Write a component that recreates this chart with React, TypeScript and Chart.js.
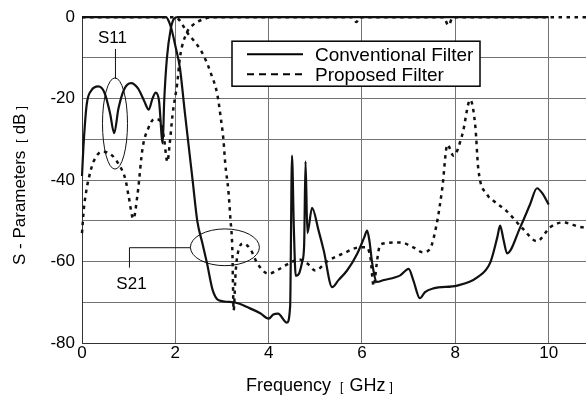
import React, { useEffect, useRef } from "react";
import { Chart, registerables } from "chart.js";

Chart.register(...registerables);

// ---- data (frequency GHz, dB) ----
const conventionalS11: [number, number][] = [
  [0, -39], [0.03, -32], [0.1, -21.5], [0.2, -18], [0.35, -17], [0.48, -18.5], [0.6, -23.5],
  [0.69, -28.5], [0.78, -22.5], [0.9, -17.8], [1.05, -16.2], [1.2, -17.5], [1.33, -20.5],
  [1.43, -22.7], [1.51, -20], [1.58, -18.5], [1.65, -20.5], [1.73, -31], [1.76, -21],
  [1.82, -10], [1.9, -3], [1.97, -0.4], [2.05, 0], [10, 0],
];
const conventionalS21: [number, number][] = [
  [0, 0], [1.8, 0], [1.86, -1], [1.92, -3], [2.0, -7], [2.1, -12.6], [2.2, -23], [2.3, -33],
  [2.37, -40], [2.47, -50], [2.58, -55.5], [2.68, -60.5], [2.8, -67], [2.93, -69.5],
  [3.25, -70], [3.6, -71.5], [3.82, -72.7], [4.0, -74], [4.1, -73], [4.2, -72.8], [4.39, -75],
  [4.46, -71], [4.5, -34], [4.54, -52], [4.58, -63.5], [4.65, -63], [4.72, -60], [4.76, -56],
  [4.79, -35.4], [4.83, -53], [4.93, -46.8], [5.07, -52.4], [5.18, -57.3], [5.36, -66.3],
  [5.5, -64.5], [5.68, -62.2], [5.9, -58], [6.05, -54], [6.11, -52.4], [6.16, -55],
  [6.22, -60.5], [6.32, -65], [6.45, -64.6], [6.82, -63.4], [7.0, -61.8], [7.1, -64.6],
  [7.24, -69], [7.35, -67.5], [7.53, -66.6], [8.04, -65.9], [8.47, -63.9], [8.75, -60.2],
  [8.9, -54], [8.96, -51.2], [9.03, -54.5], [9.11, -58], [9.39, -51.6], [9.6, -46],
  [9.75, -42], [9.88, -43.5], [10.0, -46],
];
const proposedS11: [number, number][] = [
  [0, -53], [0.04, -47], [0.08, -43.5], [0.14, -39.8], [0.25, -35.4], [0.44, -33], [0.65, -34],
  [0.78, -36], [0.93, -39.8], [1.0, -44], [1.1, -49.5], [1.19, -43.5], [1.3, -32],
  [1.42, -27.3], [1.55, -25], [1.68, -25.5], [1.76, -30], [1.83, -35.5], [1.88, -31],
  [1.94, -24], [2.04, -16.3], [2.1, -9.8], [2.25, -3.7], [2.4, -1.7], [2.6, -0.5], [2.8, 0],
  [5.8, 0], [5.88, -1.2], [5.95, 0], [7.75, 0], [7.85, -2], [7.95, 0], [10.8, 0],
];
const proposedS21: [number, number][] = [
  [0, 0], [1.95, 0], [2.07, -0.5], [2.15, -1.8], [2.25, -3.7], [2.4, -5.8], [2.54, -8],
  [2.65, -10.5], [2.75, -13.4], [2.9, -19], [2.97, -24.4], [3.03, -30], [3.07, -36],
  [3.14, -43], [3.18, -49.5], [3.22, -56.5], [3.25, -72], [3.29, -63], [3.33, -58.5],
  [3.46, -55.6], [3.61, -57], [3.76, -60.5], [4.0, -63], [4.2, -62], [4.51, -60],
  [4.65, -59.5], [4.83, -60.5], [5.0, -62.2], [5.25, -60], [5.6, -58], [5.96, -56.5],
  [6.1, -56.5], [6.18, -59], [6.25, -66], [6.31, -61], [6.36, -57], [6.42, -55.7],
  [6.82, -55.3], [7.1, -56.5], [7.3, -57.7], [7.45, -57], [7.6, -50.8], [7.72, -42],
  [7.83, -31.3], [7.96, -34], [8.15, -28.8], [8.32, -20.3], [8.43, -27], [8.49, -37],
  [8.68, -43.5], [8.81, -45], [9.1, -47.6], [9.45, -52], [9.75, -55], [10.03, -51.6],
  [10.3, -50.4], [10.74, -51.6], [10.8, -51.5],
];

const legendLabels = ["Conventional Filter", "Proposed Filter"];
const xTitle = ["Frequency", "GHz"];
const yTitle = ["S - Parameters", "dB"];
const xMin = 0;
const xMax = 10.8;
const yMin = -80;
const yMax = 0;

const FONT = "'Liberation Sans', Arial, Helvetica, sans-serif";
const INK = "#111";

const toPts = (a: [number, number][]) => a.map(([x, y]) => ({ x, y }));

export default function App() {
  const ref = useRef<HTMLCanvasElement>(null);

  useEffect(() => {
    document.body.style.margin = "0";
    const canvas = ref.current!;

    const overlay = {
      id: "overlay",
      afterDatasetsDraw(chart: any) {
        const { ctx, scales, chartArea } = chart;
        const xs = scales.x;
        const ys = scales.y;
        const px = (v: number) => xs.getPixelForValue(v);
        const py = (v: number) => ys.getPixelForValue(v);
        const kx = px(1) - px(0);
        const ky = py(0) - py(1);
        ctx.save();
        ctx.setLineDash([]);
        ctx.strokeStyle = INK;
        ctx.fillStyle = "#000";

        // S11 annotation
        ctx.lineWidth = 1;
        ctx.beginPath();
        ctx.ellipse(px(0.707), py(-26.1), 0.268 * kx, 11.2 * ky, 0, 0, Math.PI * 2);
        ctx.stroke();
        ctx.beginPath();
        ctx.moveTo(px(0.717), py(-7.8));
        ctx.lineTo(px(0.717), py(-15.1));
        ctx.stroke();
        ctx.font = `17px ${FONT}`;
        ctx.textAlign = "center";
        ctx.textBaseline = "alphabetic";
        ctx.fillText("S11", px(0.653), py(-6.3));

        // S21 annotation
        ctx.beginPath();
        ctx.ellipse(px(3.062), py(-56.5), 0.739 * kx, 4.51 * ky, 0, 0, Math.PI * 2);
        ctx.stroke();
        ctx.beginPath();
        ctx.moveTo(px(1.017), py(-61.5));
        ctx.lineTo(px(1.017), py(-56.6));
        ctx.lineTo(px(2.323), py(-56.6));
        ctx.stroke();
        ctx.fillText("S21", px(1.06), py(-66.8));

        // legend box
        const lx = chartArea.left + 150;
        const ly = chartArea.top + 24;
        const lw = 248;
        const lh = 45;
        ctx.fillStyle = "#fff";
        ctx.fillRect(lx, ly, lw, lh);
        ctx.lineWidth = 1.5;
        ctx.strokeStyle = "#000";
        ctx.strokeRect(lx, ly, lw, lh);
        const rows = [
          { y: ly + 13, dash: [] as number[] },
          { y: ly + 33, dash: [7, 5] },
        ];
        ctx.font = `19px ${FONT}`;
        ctx.textAlign = "left";
        rows.forEach((r, i) => {
          ctx.lineWidth = 2;
          ctx.setLineDash(r.dash);
          ctx.beginPath();
          ctx.moveTo(lx + 15, r.y);
          ctx.lineTo(lx + 71, r.y);
          ctx.stroke();
          ctx.setLineDash([]);
          ctx.fillStyle = "#000";
          ctx.fillText(legendLabels[i], lx + 83, r.y + 6.5);
        });

        // x title
        ctx.fillStyle = "#000";
        let cx = 246;
        const bx = 391;
        ctx.font = `18px ${FONT}`;
        ctx.fillText(xTitle[0], cx, bx);
        cx += ctx.measureText(xTitle[0]).width + 9;
        ctx.font = `12px ${FONT}`;
        ctx.fillText("[", cx, bx);
        cx += ctx.measureText("[").width + 6;
        ctx.font = `18px ${FONT}`;
        ctx.fillText(xTitle[1], cx, bx);
        cx += ctx.measureText(xTitle[1]).width + 4;
        ctx.font = `12px ${FONT}`;
        ctx.fillText("]", cx, bx);

        // y title (rotated)
        ctx.save();
        ctx.translate(25, 265);
        ctx.rotate(-Math.PI / 2);
        let cy = 0;
        ctx.font = `17px ${FONT}`;
        ctx.fillText(yTitle[0], cy, 0);
        cy += ctx.measureText(yTitle[0]).width + 8;
        ctx.font = `12px ${FONT}`;
        ctx.fillText("[", cy, 0);
        cy += ctx.measureText("[").width + 5;
        ctx.font = `17px ${FONT}`;
        ctx.fillText(yTitle[1], cy, 0);
        cy += ctx.measureText(yTitle[1]).width + 4;
        ctx.font = `12px ${FONT}`;
        ctx.fillText("]", cy, 0);
        ctx.restore();

        ctx.restore();
      },
    };

    const solid = { borderColor: INK, borderWidth: 2.2, borderDash: [] as number[], clip: 6 };
    const dotted = { borderColor: INK, borderWidth: 2.5, borderDash: [3.5, 4.5], clip: 6 };

    const chart = new Chart(canvas, {
      type: "line",
      data: {
        datasets: [
          { label: "Conventional S11", data: toPts(conventionalS11), ...solid },
          { label: "Conventional S21", data: toPts(conventionalS21), ...solid },
          { label: "Proposed S11", data: toPts(proposedS11), ...dotted },
          { label: "Proposed S21", data: toPts(proposedS21), ...dotted },
        ],
      },
      options: {
        responsive: false,
        animation: false,
        layout: { padding: { top: 15, right: 0, left: 0, bottom: 0 } },
        elements: {
          point: { radius: 0, hoverRadius: 0 },
          line: { cubicInterpolationMode: "monotone", fill: false, borderCapStyle: "butt" },
        },
        plugins: { legend: { display: false }, tooltip: { enabled: false } },
        scales: {
          x: {
            type: "linear",
            min: xMin,
            max: xMax,
            afterFit: (s: any) => { s.height = 55; },
            ticks: {
              stepSize: 2,
              includeBounds: false,
              maxRotation: 0,
              autoSkip: false,
              padding: 0,
              color: "#000",
              font: { family: FONT, size: 17 },
            },
            grid: {
              drawTicks: false,
              lineWidth: 1,
              color: (c: any) => (c.tick && c.tick.value === 0 ? "rgba(0,0,0,0)" : "#737373"),
            },
            border: { color: "#333", width: 1 },
          },
          y: {
            type: "linear",
            min: yMin,
            max: yMax,
            afterFit: (s: any) => { s.width = 82; },
            ticks: {
              stepSize: 10,
              padding: 7,
              color: "#000",
              font: { family: FONT, size: 17 },
              callback: (v: any) => (Number(v) % 20 === 0 ? String(v) : ""),
            },
            grid: {
              drawTicks: false,
              lineWidth: 1,
              color: (c: any) => (c.tick && c.tick.value === 0 ? "rgba(0,0,0,0)" : "#737373"),
            },
            border: { color: "#333", width: 1 },
          },
        },
      },
      plugins: [overlay],
    });
    return () => chart.destroy();
  }, []);

  return <canvas ref={ref} width={586} height={398} style={{ display: "block" }} />;
}
